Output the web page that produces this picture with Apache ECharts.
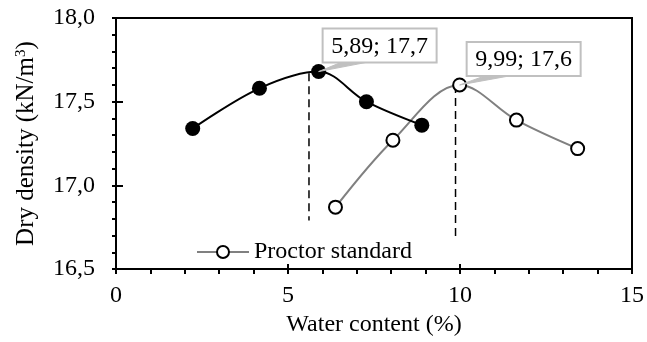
<!DOCTYPE html>
<html><head><meta charset="utf-8">
<script src="https://cdn.jsdelivr.net/npm/echarts@6/dist/echarts.min.js"></script>
<style>html,body{margin:0;padding:0;background:#fff}#c{width:647px;height:342px}</style>
</head><body><div id="c"></div>
<script>
// ---- data ----
const seriesAName = 'Series 1';
const seriesBName = 'Proctor standard';
const seriesAX = [2.23, 4.17, 5.89, 7.28, 8.89];
const seriesAY = [17.34, 17.58, 17.68, 17.50, 17.36];
const seriesBX = [6.38, 8.05, 9.99, 11.64, 13.42];
const seriesBY = [16.87, 17.27, 17.60, 17.39, 17.22];
const peakX = [5.89, 9.99];
const peakY = [17.68, 17.60];
const peakText = ['5,89; 17,7', '9,99; 17,6'];
const drop1X = [5.61, 5.61];
const drop1Y = [17.67, 16.79];
const drop2X = [9.87, 9.87];
const drop2Y = [17.60, 16.69];
const xTickLabels = ['0', '5', '10', '15'];
const yTickLabels = ['16,5', '17,0', '17,5', '18,0'];
const xTitle = 'Water content (%)';
const yTitle = 'Dry density (kN/m{sup|3})';

const zip = (xs, ys) => xs.map((x, i) => [x, ys[i]]);
const FONT = "'Liberation Serif', 'Times New Roman', serif";

const chart = echarts.init(document.getElementById('c'), null, {renderer: 'canvas'});
const xBase = {type: 'value', min: 0, max: 15, interval: 5, splitLine: {show: false}};
const yBase = {type: 'value', min: 16.5, max: 18, interval: 0.5, splitLine: {show: false}};

// callout box geometry (relative to the data point, px)
const calloutOffsets = [[61, -26], [64, -26]];
const BOX_W = 114, BOX_H = 34;

chart.setOption({
  backgroundColor: '#fff',
  animation: false,
  grid: {left: 116, right: 12.5, top: 18, bottom: 62.5, show: true, borderColor: '#000', borderWidth: 2, containLabel: false},
  legend: {
    data: [seriesBName], left: 196, top: 240, padding: 0, itemWidth: 52, itemHeight: 15, itemGap: 6,
    textStyle: {fontFamily: FONT, fontSize: 24, color: '#000'}
  },
  xAxis: [
    Object.assign({}, xBase, {
      position: 'bottom',
      axisLine: {show: true, lineStyle: {color: '#000', width: 2}},
      axisTick: {show: true, inside: false, length: 5, lineStyle: {color: '#000', width: 2}},
      minorTick: {show: true, splitNumber: 5, length: 5, lineStyle: {color: '#000', width: 2}},
      axisLabel: {margin: 15, fontFamily: FONT, fontSize: 24, color: '#000',
        formatter: v => xTickLabels[Math.round(v / 5)]},
      name: xTitle, nameLocation: 'middle', nameGap: 32,
      nameTextStyle: {fontFamily: FONT, fontSize: 24, color: '#000'}
    }),
    Object.assign({}, xBase, {
      position: 'bottom', axisLine: {show: false}, axisLabel: {show: false},
      axisTick: {show: true, inside: true, length: 5, lineStyle: {color: '#000', width: 2}}
    })
  ],
  yAxis: [
    Object.assign({}, yBase, {
      position: 'left',
      axisLine: {show: true, lineStyle: {color: '#000', width: 2}},
      axisTick: {show: true, inside: false, length: 4, lineStyle: {color: '#000', width: 2}},
      minorTick: {show: true, splitNumber: 5, length: 4, lineStyle: {color: '#000', width: 2}},
      axisLabel: {margin: 21, fontFamily: FONT, fontSize: 24, color: '#000',
        formatter: v => yTickLabels[Math.round((v - 16.5) / 0.5)]},
      name: yTitle, nameLocation: 'middle', nameGap: 77, nameRotate: 90,
      nameTextStyle: {fontFamily: FONT, fontSize: 25, color: '#000',
        rich: {sup: {fontFamily: FONT, fontSize: 15, color: '#000', verticalAlign: 'top', padding: [0, 0, 10, 0]}}}
    }),
    Object.assign({}, yBase, {
      position: 'left', axisLine: {show: false}, axisLabel: {show: false},
      axisTick: {show: true, inside: true, length: 7, lineStyle: {color: '#000', width: 2}}
    })
  ],
  series: [
    {
      name: 'drop1', type: 'line', data: zip(drop1X, drop1Y), symbol: 'none', silent: true,
      lineStyle: {color: '#000', width: 1.5, type: [8, 5]}, z: 1
    },
    {
      name: 'drop2', type: 'line', data: zip(drop2X, drop2Y), symbol: 'none', silent: true,
      lineStyle: {color: '#000', width: 1.5, type: [8, 5]}, z: 1
    },
    {
      name: seriesBName, type: 'line', data: zip(seriesBX, seriesBY), smooth: 0.35,
      symbol: 'circle', symbolSize: 13,
      lineStyle: {color: '#808080', width: 2},
      itemStyle: {color: '#fff', borderColor: '#000', borderWidth: 2},
      z: 2
    },
    {
      name: seriesAName, type: 'line', data: zip(seriesAX, seriesAY), smooth: 0.35,
      symbol: 'circle', symbolSize: 15,
      lineStyle: {color: '#000', width: 2},
      itemStyle: {color: '#000', borderColor: '#000', borderWidth: 0},
      z: 3
    },
    {
      name: 'callouts', type: 'custom', data: zip(peakX, peakY), silent: true, z: 5,
      renderItem: (params, api) => {
        const i = params.dataIndex;
        const pt = api.coord([api.value(0), api.value(1)]);
        const off = calloutOffsets[i];
        const cx = pt[0] + off[0], cy = pt[1] + off[1];
        const bl = cx - BOX_W / 2, bt = cy - BOX_H / 2, bb = cy + BOX_H / 2;
        return {
          type: 'group',
          children: [
            {type: 'polygon', shape: {points: [[pt[0], pt[1]], [bl + 18, bb], [bl + 48, bb - 1]]},
             style: {fill: '#c0c0c0', stroke: '#c0c0c0', lineWidth: 1}},
            {type: 'rect', shape: {x: bl, y: bt, width: BOX_W, height: BOX_H},
             style: {fill: '#fff', stroke: '#c0c0c0', lineWidth: 2}},
            {type: 'text', x: cx, y: cy + 1,
             style: {text: peakText[i], fontFamily: FONT, fontSize: 24, fill: '#000', align: 'center', verticalAlign: 'middle'}}
          ]
        };
      }
    }
  ]
});
</script>
</body></html>
